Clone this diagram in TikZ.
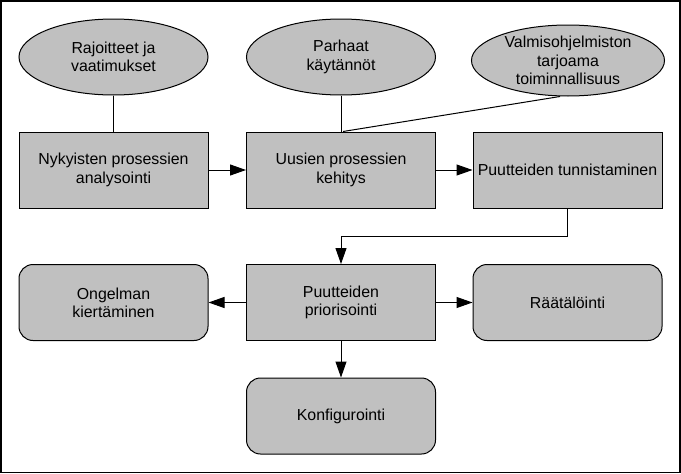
\documentclass[tikz,border=0pt]{standalone}
\usepackage{fontspec}
\setmainfont{Liberation Sans}
\usetikzlibrary{shapes.geometric,arrows.meta}
\definecolor{boxgray}{HTML}{C0C0C0}

\begin{document}
\begin{tikzpicture}[x=1pt,y=-1pt,
  base/.style={draw, fill=boxgray, line width=1pt, inner sep=0pt, align=center,
    font=\fontsize{15.9}{18.3}\selectfont, minimum width=189pt, minimum height=76pt},
  goal/.style={base, ellipse},
  task/.style={base, rectangle},
  option/.style={base, rectangle, rounded corners=14pt},
  link/.style={line width=1pt},
  flow/.style={link, -{Triangle[length=16pt,width=11pt]}}]
      \useasboundingbox (0,0) rectangle (681,474);
      \draw[line width=1.5pt] (0.75,0.75) rectangle (680,472.5);
      \node[goal] (limits) at (113.5,57) {Rajoitteet ja\\vaatimukset};
      \node[goal] (practice) at (341,57) {Parhaat\\käytännöt};
      \node[goal, minimum width=193pt, minimum height=71pt] (features) at (568,60.5) {Valmisohjelmiston\\tarjoama\\toiminnallisuus};
      \node[task] (analysis) at (113.5,170) {Nykyisten prosessien\\analysointi};
      \node[task] (design) at (341,170) {Uusien prosessien\\kehitys};
      \node[task] (gaps) at (567.5,170) {Puutteiden tunnistaminen};
      \node[option] (workaround) at (113.5,302.5) {Ongelman\\kiertäminen};
      \node[task] (priority) at (341,302.5) {Puutteiden\\priorisointi};
      \node[option] (tailoring) at (567.5,302.5) {Räätälöinti};
      \node[option] (config) at (341,416) {Konfigurointi};
      \draw[link] (limits) -- (analysis);
      \draw[link] (practice) -- (design);
      \draw[link] ([xshift=-8pt]features.south) -- ([xshift=2pt]design.north);
      \draw[flow] (analysis) -- (design);
      \draw[flow] (design) -- (gaps);
      \draw[flow] (gaps.south) -- ++(0,28) -| (priority.north);
      \draw[flow] (priority) -- (workaround);
      \draw[flow] (priority) -- (tailoring);
      \draw[flow] (priority) -- (config);
\end{tikzpicture}
\end{document}
